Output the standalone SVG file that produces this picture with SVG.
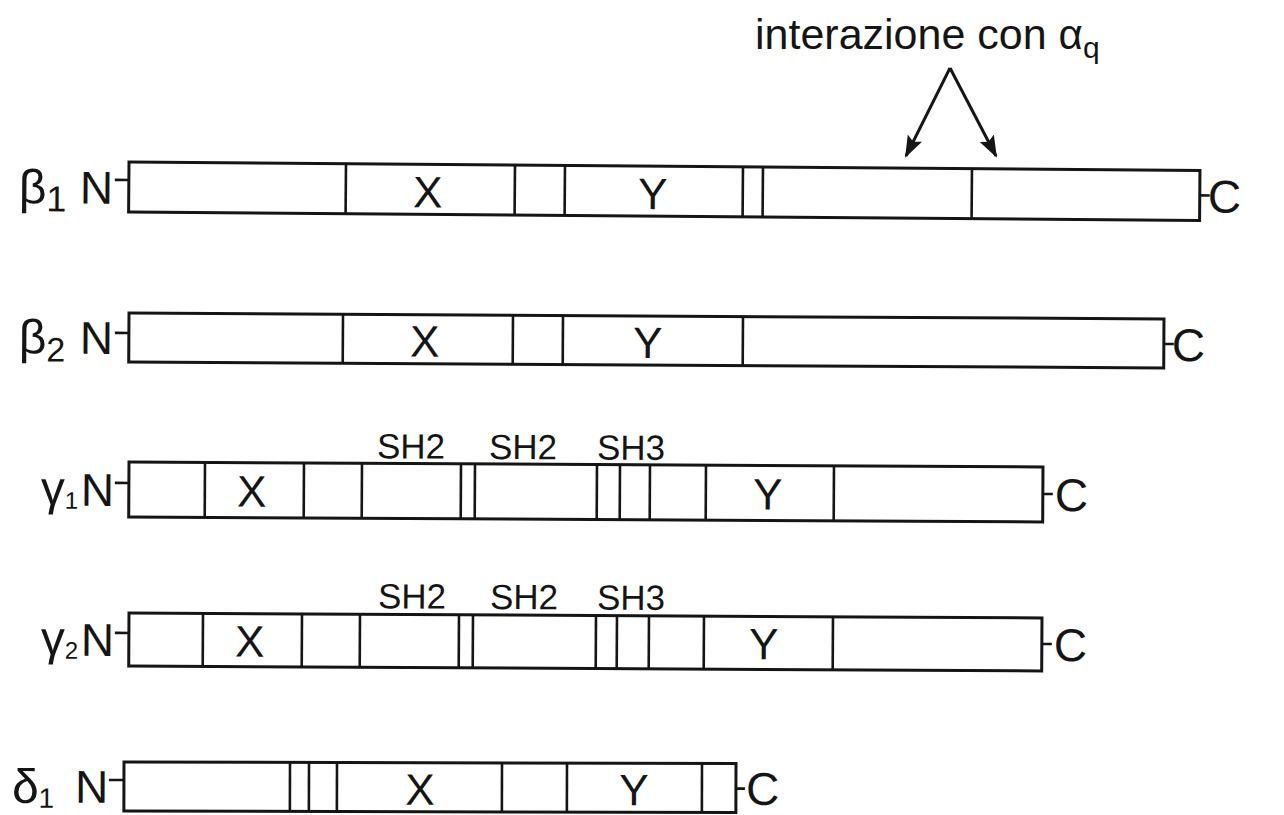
<svg xmlns="http://www.w3.org/2000/svg" width="1284" height="815" viewBox="0 0 1284 815">
  <style>
    .box { fill: #fff; stroke: #151515; stroke-width: 3; }
    .sep { stroke: #151515; stroke-width: 2.6; }
    .tick { stroke: #151515; stroke-width: 2.6; }
    text { font-family: "Liberation Sans", Arial, sans-serif; fill: #151515; }
    .dom { font-size: 44px; text-anchor: middle; }
    .end { font-size: 46px; }
    .greek { font-size: 48px; }
    .sh { font-size: 35px; text-anchor: middle; }
    .title { font-size: 43px; }
    .arrow { stroke: #151515; stroke-width: 3; fill: none; marker-end: url(#head); }
  </style>
  <defs>
    <marker id="head" viewBox="0 0 22 16" refX="20" refY="8" markerWidth="22" markerHeight="16" markerUnits="userSpaceOnUse" orient="auto">
      <path d="M0,0 L22,8 L0,16 L4,8 Z" fill="#151515"/>
    </marker>
  </defs>
  <rect width="1284" height="815" fill="#fff"/>

  <!-- heading above beta1 -->
  <g id="title">
    <text class="title" x="755" y="49">interazione con <tspan font-size="42">α</tspan><tspan font-size="30" dy="9">q</tspan></text>
  </g>

  <!-- beta1 -->
  <g id="beta1" transform="rotate(0.45 129 162)">
    <text class="greek" x="19" y="204">β<tspan font-size="36" dy="8">1</tspan></text>
    <text class="end" x="80" y="204">N</text>
    <line class="tick" x1="115" y1="180" x2="129" y2="180"/>
    <rect class="box" x="129" y="162" width="1071" height="50"/>
    <line class="sep" x1="346" y1="162" x2="346" y2="212"/>
    <line class="sep" x1="515" y1="162" x2="515" y2="212"/>
    <line class="sep" x1="565" y1="162" x2="565" y2="212"/>
    <line class="sep" x1="743" y1="162" x2="743" y2="212"/>
    <line class="sep" x1="763" y1="162" x2="763" y2="212"/>
    <line class="sep" x1="972" y1="162" x2="972" y2="212"/>
    <text class="dom" x="428" y="205">X</text>
    <text class="dom" x="653" y="205">Y</text>
    <line class="tick" x1="1200" y1="187" x2="1210" y2="187"/>
    <text class="end" x="1208" y="204">C</text>
  </g>

  <!-- beta2 -->
  <g id="beta2" transform="rotate(0.33 129 313)">
    <text class="greek" x="19" y="354">β<tspan font-size="34" dy="8">2</tspan></text>
    <text class="end" x="80" y="354">N</text>
    <line class="tick" x1="115" y1="333" x2="129" y2="333"/>
    <rect class="box" x="129" y="313" width="1035" height="49"/>
    <line class="sep" x1="343" y1="313" x2="343" y2="362"/>
    <line class="sep" x1="513" y1="313" x2="513" y2="362"/>
    <line class="sep" x1="563" y1="313" x2="563" y2="362"/>
    <line class="sep" x1="743" y1="313" x2="743" y2="362"/>
    <text class="dom" x="425" y="355">X</text>
    <text class="dom" x="648" y="355">Y</text>
    <line class="tick" x1="1164" y1="338" x2="1174" y2="338"/>
    <text class="end" x="1172" y="355">C</text>
  </g>

  <!-- gamma1 -->
  <g id="gamma1" transform="rotate(0.31 129 462)">
    <text class="greek" x="41" y="505" font-size="34">γ<tspan font-size="24" dy="4">1</tspan></text>
    <text class="end" x="81" y="506">N</text>
    <line class="tick" x1="115" y1="483" x2="129" y2="483"/>
    <text class="sh" x="411" y="457">SH2</text>
    <text class="sh" x="523" y="457">SH2</text>
    <text class="sh" x="631" y="457">SH3</text>
    <rect class="box" x="129" y="462" width="914" height="55"/>
    <line class="sep" x1="205" y1="462" x2="205" y2="517"/>
    <line class="sep" x1="304" y1="462" x2="304" y2="517"/>
    <line class="sep" x1="362" y1="462" x2="362" y2="517"/>
    <line class="sep" x1="461" y1="462" x2="461" y2="517"/>
    <line class="sep" x1="475" y1="462" x2="475" y2="517"/>
    <line class="sep" x1="597" y1="462" x2="597" y2="517"/>
    <line class="sep" x1="620" y1="462" x2="620" y2="517"/>
    <line class="sep" x1="650" y1="462" x2="650" y2="517"/>
    <line class="sep" x1="706" y1="462" x2="706" y2="517"/>
    <line class="sep" x1="834" y1="462" x2="834" y2="517"/>
    <text class="dom" x="252" y="506">X</text>
    <text class="dom" x="768" y="506">Y</text>
    <line class="tick" x1="1043" y1="489" x2="1053" y2="489"/>
    <text class="end" x="1055" y="506">C</text>
  </g>

  <!-- gamma2 -->
  <g id="gamma2" transform="rotate(0.31 129 613)">
    <text class="greek" x="41" y="655" font-size="34">γ<tspan font-size="24" dy="4">2</tspan></text>
    <text class="end" x="81" y="656">N</text>
    <line class="tick" x1="115" y1="633" x2="129" y2="633"/>
    <text class="sh" x="412" y="607">SH2</text>
    <text class="sh" x="524" y="607">SH2</text>
    <text class="sh" x="631" y="607">SH3</text>
    <rect class="box" x="129" y="613" width="913" height="53"/>
    <line class="sep" x1="203" y1="613" x2="203" y2="666"/>
    <line class="sep" x1="302" y1="613" x2="302" y2="666"/>
    <line class="sep" x1="360" y1="613" x2="360" y2="666"/>
    <line class="sep" x1="459" y1="613" x2="459" y2="666"/>
    <line class="sep" x1="473" y1="613" x2="473" y2="666"/>
    <line class="sep" x1="596" y1="613" x2="596" y2="666"/>
    <line class="sep" x1="617" y1="613" x2="617" y2="666"/>
    <line class="sep" x1="649" y1="613" x2="649" y2="666"/>
    <line class="sep" x1="704" y1="613" x2="704" y2="666"/>
    <line class="sep" x1="833" y1="613" x2="833" y2="666"/>
    <text class="dom" x="250" y="656">X</text>
    <text class="dom" x="764" y="656">Y</text>
    <line class="tick" x1="1042" y1="639" x2="1052" y2="639"/>
    <text class="end" x="1054" y="656">C</text>
  </g>

  <!-- delta1 -->
  <g id="delta1" transform="rotate(0.15 124 762)">
    <text class="greek" x="12" y="803">δ<tspan font-size="28" dy="5">1</tspan></text>
    <text class="end" x="75" y="803">N</text>
    <line class="tick" x1="109" y1="780" x2="124" y2="780"/>
    <rect class="box" x="124" y="762" width="612" height="49"/>
    <line class="sep" x1="290" y1="762" x2="290" y2="811"/>
    <line class="sep" x1="309" y1="762" x2="309" y2="811"/>
    <line class="sep" x1="337" y1="762" x2="337" y2="811"/>
    <line class="sep" x1="502" y1="762" x2="502" y2="811"/>
    <line class="sep" x1="567" y1="762" x2="567" y2="811"/>
    <line class="sep" x1="702" y1="762" x2="702" y2="811"/>
    <text class="dom" x="420" y="804">X</text>
    <text class="dom" x="634" y="804">Y</text>
    <line class="tick" x1="736" y1="787" x2="745" y2="787"/>
    <text class="end" x="746" y="803">C</text>
  </g>

  <!-- arrows pointing at the two C-terminal segments of beta1 -->
  <g id="connectors">
    <path class="arrow" d="M950,68 L906,156"/>
    <path class="arrow" d="M950,68 L996,156"/>
  </g>
</svg>
